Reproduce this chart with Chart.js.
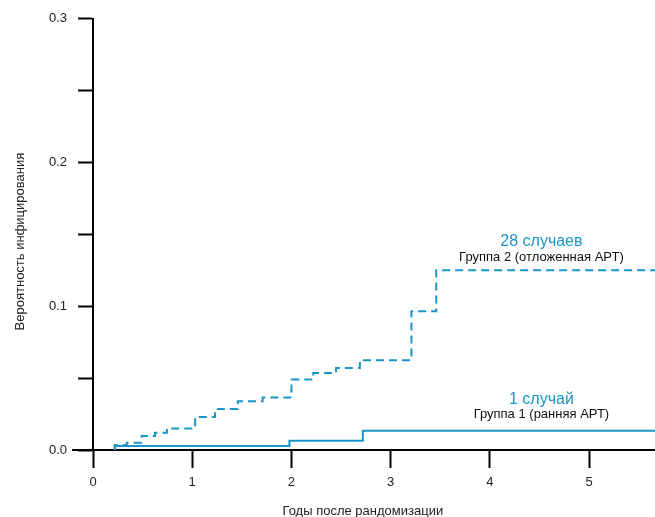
<!DOCTYPE html>
<html lang="ru">
<head>
<meta charset="UTF-8">
<title>Вероятность инфицирования</title>
<script src="https://cdn.jsdelivr.net/npm/chart.js"></script>
<style>
  html, body { margin: 0; padding: 0; background: #fff; }
  #wrap { width: 655px; height: 517px; }
</style>
</head>
<body>
<div id="wrap"><canvas id="kmChart" width="655" height="517"></canvas></div>
<script>
  // years after randomization where a curve steps, and the probability after that step
  const group1Years = [0.22, 0.22, 1.98, 2.72, 5.665];
  const group1Prob  = [0, 0.0028, 0.0065, 0.0134, 0.0134];

  const group2Years = [0.22, 0.22, 0.34, 0.49, 0.625, 0.745, 1.03, 1.23, 1.46, 1.71, 2.0, 2.22, 2.45, 2.69, 3.21, 3.46, 5.665];
  const group2Prob  = [0, 0.0035, 0.005, 0.0097, 0.012, 0.015, 0.023, 0.0285, 0.034, 0.0365, 0.049, 0.0535, 0.057, 0.0625, 0.0965, 0.125, 0.125];

  const xTicks = [0, 1, 2, 3, 4, 5];
  const yTicks = [0, 0.05, 0.1, 0.15, 0.2, 0.25, 0.3];
  const yLabelled = [0, 0.1, 0.2, 0.3];

  const xTitle = 'Годы после рандомизации';
  const yTitle = 'Вероятность инфицирования';

  const BLUE = '#1996c8';
  const FONT = "'Liberation Sans', Arial, sans-serif";

  // text next to the curves, placed in axis units
  const curveLabels = [
    { text: '28 случаев', x: 4.52, y: 0.1417, size: 16, color: BLUE },
    { text: 'Группа 2 (отложенная АРТ)', x: 4.52, y: 0.1313, size: 13, color: '#111' },
    { text: '1 случай', x: 4.52, y: 0.0319, size: 16, color: BLUE },
    { text: 'Группа 1 (ранняя АРТ)', x: 4.52, y: 0.0222, size: 13, color: '#111' }
  ];

  function toPoints(xs, ys) {
    return xs.map((t, i) => ({ x: t, y: ys[i] }));
  }

  const extras = {
    id: 'extras',
    afterDraw(chart) {
      const { ctx, chartArea, scales: { x, y } } = chart;
      ctx.save();
      // x axis line sticks out a bit to the left of the y axis
      const y0 = y.getPixelForValue(0);
      ctx.strokeStyle = '#000';
      ctx.lineWidth = 2;
      ctx.beginPath();
      ctx.moveTo(chartArea.left - 21, y0);
      ctx.lineTo(chartArea.left, y0);
      ctx.stroke();

      ctx.textAlign = 'center';
      ctx.textBaseline = 'alphabetic';
      curveLabels.forEach(l => {
        ctx.font = l.size + 'px ' + FONT;
        ctx.fillStyle = l.color;
        ctx.fillText(l.text, x.getPixelForValue(l.x), y.getPixelForValue(l.y));
      });

      // axis titles, placed like in the original (a bit off the plot centre)
      ctx.font = '13px ' + FONT;
      ctx.fillStyle = '#222';
      ctx.textBaseline = 'middle';
      ctx.fillText(xTitle, x.getPixelForValue(2.72), chart.height - 6);
      ctx.translate(20, y.getPixelForValue(0.145));
      ctx.rotate(-Math.PI / 2);
      ctx.fillText(yTitle, 0, 0);
      ctx.restore();
    }
  };

  new Chart(document.getElementById('kmChart'), {
    type: 'line',
    data: {
      datasets: [
        {
          label: 'Группа 1 (ранняя АРТ)',
          data: toPoints(group1Years, group1Prob),
          borderColor: BLUE,
          borderWidth: 2,
          stepped: 'before',
          pointRadius: 0,
          fill: false
        },
        {
          label: 'Группа 2 (отложенная АРТ)',
          data: toPoints(group2Years, group2Prob),
          borderColor: BLUE,
          borderWidth: 2,
          borderDash: [8, 5],
          stepped: 'before',
          pointRadius: 0,
          fill: false
        }
      ]
    },
    options: {
      responsive: false,
      animation: false,
      layout: { padding: { top: 17, right: 0, left: 0, bottom: 0 } },
      plugins: {
        legend: { display: false },
        tooltip: { enabled: false }
      },
      scales: {
        x: {
          type: 'linear',
          min: 0,
          max: 5.665,
          afterBuildTicks: s => { s.ticks = xTicks.map(v => ({ value: v })); },
          afterFit: s => { s.height = 67; },
          border: { color: '#000', width: 2 },
          grid: { drawOnChartArea: false, tickLength: 18, tickWidth: 2, tickColor: '#000', color: '#000' },
          ticks: { padding: 7, color: '#222', font: { family: FONT, size: 13 } }
        },
        y: {
          type: 'linear',
          min: 0,
          max: 0.3,
          afterBuildTicks: s => { s.ticks = yTicks.map(v => ({ value: v })); },
          afterFit: s => { s.width = 93; },
          border: { color: '#000', width: 2 },
          grid: { drawOnChartArea: false, tickLength: 15, tickWidth: 2, tickColor: '#000', color: '#000' },
          ticks: {
            padding: 11,
            color: '#222',
            font: { family: FONT, size: 13 },
            callback: v => yLabelled.some(m => Math.abs(m - v) < 1e-9) ? v.toFixed(1) : ''
          }
        }
      }
    },
    plugins: [extras]
  });
</script>
</body>
</html>
